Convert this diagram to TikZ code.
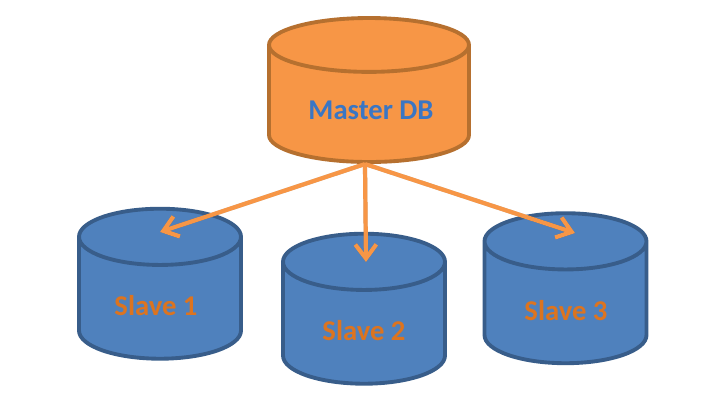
\documentclass[tikz,border=0pt]{standalone}
\usepackage{fontspec}
\setmainfont{Carlito}
\usepackage{tikz}
\usetikzlibrary{arrows.meta,positioning,shapes.geometric}
\definecolor{dbOrange}{HTML}{F79646}
\definecolor{dbOrangeEdge}{HTML}{B6702F}
\definecolor{dbBlue}{HTML}{4F81BD}
\definecolor{dbBlueEdge}{HTML}{385D8A}
\definecolor{slaveText}{HTML}{DC7420}
\definecolor{masterText}{HTML}{3A76C4}

\begin{document}
\begin{tikzpicture}[
    master/.style={cylinder, shape border rotate=90, aspect=4.6, draw=dbOrangeEdge, line width=2.2pt, fill=dbOrange, minimum height=2.88cm, minimum width=4cm},
    slave/.style={cylinder, shape border rotate=90, aspect=4.8, draw=dbBlueEdge, line width=2.2pt, fill=dbBlue, minimum height=3cm, minimum width=3.24cm},
    masterlabel/.style={text=masterText, font=\bfseries\fontsize{16.3}{19}\selectfont},
    slavelabel/.style={text=slaveText, font=\bfseries\fontsize{16.3}{19}\selectfont},
    arrow/.style={-{Straight Barb[length=8pt, width=12pt]}, line width=2.4pt, draw=dbOrange},
    arrowshadow/.style={arrow, draw=black, opacity=0.2, shift={(0.05,-0.05)}}
]
\useasboundingbox (0,0) rectangle (14.28,8.06);

% Databases
\node[master] (master) at (7.38,5.88) {};
\node[slave] (slave1) at (3.2,1.98) {};
\node[slave] (slave2) at (7.28,1.48) {};
\node[slave] (slave3) at (11.31,1.89) {};

% Labels
\node[masterlabel] (masterdb) at (7.42,5.86) {Master DB};
\node[slavelabel] (label1) at (3.12,1.94) {Slave 1};
\node[slavelabel] (label2) at (7.28,1.44) {Slave 2};
\node[slavelabel] (label3) at (11.32,1.84) {Slave 3};

% Arrow ends
\coordinate (out) at (7.3,4.78);
\coordinate (in1) at (3.2,3.42);
\coordinate (in2) at (7.32,2.82);
\coordinate (in3) at (11.5,3.4);

% Replication
\foreach \target in {in1,in2,in3} {
    \draw[arrowshadow] (out) -- (\target);
}
\foreach \target in {in1,in2,in3} {
    \draw[arrow] (out) -- (\target);
}

\end{tikzpicture}
\end{document}
